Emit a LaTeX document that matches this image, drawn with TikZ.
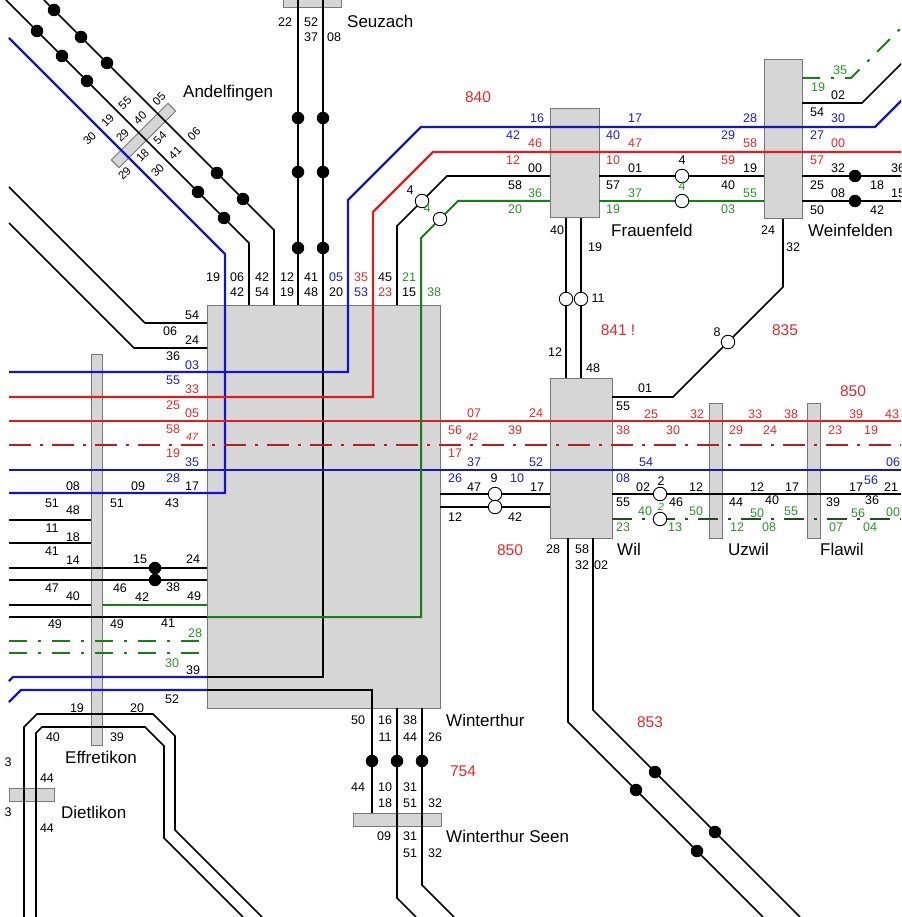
\documentclass[tikz,border=0pt]{standalone}
\usepackage{fontspec}
\setmainfont{Liberation Sans}
\definecolor{trackblue}{RGB}{20,20,200}
\definecolor{trackred}{RGB}{222,30,30}
\definecolor{trackdred}{RGB}{185,30,30}
\definecolor{trackgreen}{RGB}{25,125,25}
\definecolor{trackdgreen}{RGB}{30,80,30}
\definecolor{textred}{RGB}{228,40,40}
\definecolor{textblue}{RGB}{30,30,205}
\definecolor{textgreen}{RGB}{40,150,40}
\definecolor{boxfill}{RGB}{214,214,214}
\definecolor{boxline}{RGB}{120,120,120}

\def\pageW{901}
\def\pageH{917}
\def\stopSize{12.5}
\def\ringSize{13.5}

\begin{document}
\begin{tikzpicture}[x=1pt, y=-1pt,
    track/.style={line width=1.7pt, black},
    bluetrack/.style={line width=2.3pt, trackblue},
    redtrack/.style={line width=2.3pt, trackred},
    greentrack/.style={line width=2pt, trackgreen},
    reddash/.style={line width=2.3pt, trackdred, dash pattern=on 22pt off 9pt on 3pt off 9pt},
    greendash/.style={line width=2pt, trackgreen, dash pattern=on 18pt off 11pt on 3pt off 11pt},
    darkdash/.style={line width=1.9pt, trackdgreen, dash pattern=on 20pt off 10pt on 3pt off 10pt},
    stnbox/.style={draw=boxline, fill=boxfill, line width=1pt},
    stop/.style={circle, fill=black, inner sep=0pt, minimum size=\stopSize pt},
    ring/.style={circle, draw=black, fill=white, line width=0.9pt, inner sep=0pt, minimum size=\ringSize pt},
    num/.style={inner sep=0pt, font=\fontsize{12.5}{12.5}\selectfont},
    slantnum/.style={inner sep=0pt, font=\fontsize{11.5}{11.5}\selectfont},
    smallnum/.style={inner sep=0pt, font=\fontsize{10.5}{10.5}\itshape},
    route/.style={inner sep=0pt, text=textred, font=\fontsize{15.5}{15.5}\selectfont},
    station/.style={inner sep=0pt, anchor=west, font=\fontsize{17}{17}\selectfont}]
    \useasboundingbox (0,0) rectangle (\pageW,\pageH);
    \clip (0,0) rectangle (\pageW,\pageH);

    %% station boxes and platform bars
    \draw[stnbox] (207,305) rectangle (440,708);
    \draw[stnbox] (550,109) rectangle (599,218);
    \draw[stnbox] (764,60) rectangle (802,219);
    \draw[stnbox] (550,378) rectangle (612,538);
    \draw[stnbox] (283,-3) rectangle (341,8);
    \draw[stnbox] (91,354) rectangle (102,745);
    \draw[stnbox] (9,788) rectangle (54,801);
    \draw[stnbox] (353,813) rectangle (441,826);
    \draw[stnbox] (709,403) rectangle (722,538);
    \draw[stnbox] (807,403) rectangle (820,538);
    \node[stnbox, rotate=45, minimum width=80pt, minimum height=11pt, inner sep=0pt]
        (andelfingenbar) at (143.5,135.5) {};

    %% Andelfingen and Seuzach
    \draw[track] (6,0) -- (249,243) -- (249,305);
    \draw[track] (44,0) -- (274,230) -- (274,305);
    \draw[bluetrack] (9,38) -- (225,254) -- (225,493) -- (9,493);
    \draw[track] (298,0) -- (298,305);
    \draw[track] (323,0) -- (323,677) -- (207,677);
    \draw[bluetrack] (207,677) -- (13,677) -- (9,681);

    %% west side
    \draw[track] (9,187) -- (145,323) -- (207,323);
    \draw[track] (9,223) -- (134,348) -- (207,348);
    \draw[bluetrack] (9,372) -- (348,372) -- (348,200) -- (421,127) -- (875,127) -- (903,99);
    \draw[redtrack] (9,397) -- (373,397) -- (373,212) -- (433,152) -- (\pageW,152);
    \draw[redtrack] (9,421) -- (\pageW,421);
    \draw[reddash] (9,445) -- (\pageW,445);
    \draw[bluetrack] (9,470) -- (\pageW,470);
    \draw[track] (9,520) -- (91,520);
    \draw[track] (9,543) -- (91,543);
    \draw[track] (9,568) -- (207,568);
    \draw[track] (9,580) -- (207,580);
    \draw[track] (9,605) -- (91,605);
    \draw[greentrack] (102,605) -- (207,605);
    \draw[track] (9,617) -- (207,617);
    \draw[greentrack] (207,617) -- (421,617) -- (421,238) -- (458,201) -- (550,201);
    \draw[greendash] (9,641) -- (207,641);
    \draw[greendash] (9,653) -- (207,653);
    \draw[bluetrack] (9,702) -- (21,690) -- (207,690);
    \draw[track] (207,690) -- (372,690) -- (372,813);

    %% Effretikon - Dietlikon
    \draw[track] (24,\pageH) -- (24,727) -- (37,714) -- (153,714) -- (175,736) -- (175,830) -- (262,\pageH);
    \draw[track] (36,\pageH) -- (36,733) -- (42,727) -- (145,727) -- (164,746) -- (164,838) -- (243,\pageH);

    %% Winterthur Seen
    \draw[track] (397,708) -- (397,898) -- (416,\pageH);
    \draw[track] (422,708) -- (422,885) -- (454,\pageH);

    %% Frauenfeld - Weinfelden
    \draw[track] (397,305) -- (397,226) -- (447,176) -- (550,176);
    \draw[track] (599,176) -- (764,176);
    \draw[greentrack] (599,201) -- (764,201);
    \draw[track] (802,176) -- (\pageW,176);
    \draw[track] (802,201) -- (\pageW,201);
    \draw[track] (802,103) -- (862,103) -- (903,62);
    \draw[greendash] (802,78) -- (851,78) -- (903,26);

    %% Wil
    \draw[track] (566,218) -- (566,378);
    \draw[track] (581,218) -- (581,378);
    \draw[track] (612,397) -- (673,397) -- (783,287) -- (783,219);
    \draw[track] (440,494) -- (550,494);
    \draw[track] (440,507) -- (550,507);
    \draw[track] (612,494) -- (\pageW,494);
    \draw[darkdash] (612,519) -- (\pageW,519);
    \draw[track] (568,538) -- (568,722) -- (763,\pageH);
    \draw[track] (593,538) -- (593,710) -- (800,\pageH);

    %% stops
    \foreach \x/\y in {298/118, 323/118, 298/172, 323/172, 298/248, 323/248,
        54/10, 81/37, 107/63, 217/173, 243/199, 37/31, 62/56, 87/81, 198/192, 224/218,
        155/568, 155/580, 855/176, 855/201, 372/761, 397/761, 422/761,
        655/772, 715/832, 636/790, 697/851}
        \node[stop] (s\x-\y) at (\x,\y) {};
    \foreach \x/\y in {422/201, 440/219, 682/176, 682/201, 566/299, 581/299,
        728/342, 495/494, 495/507, 660/494, 660/519}
        \node[ring] (r\x-\y) at (\x,\y) {};

    %% times, black
    \foreach \x/\y/\t in {285/22/22, 311/22/52, 311/37/37, 334/37/08,
        213/277/19, 237/277/06, 237/292/42, 262/277/42, 262/292/54, 287/277/12,
        287/292/19, 311/277/41, 311/292/48, 336/292/20, 385/277/45, 409/292/15,
        192/315/54, 170/331/06, 192/340/24, 173/356/36, 192/486/17, 172/503/43,
        73/486/08, 138/486/09, 52/503/51, 117/503/51, 73/510/48, 52/528/11,
        73/537/18, 52/551/41, 73/560/14, 140/559/15, 193/559/24, 52/588/47,
        73/596/40, 120/588/46, 142/597/42, 173/587/38, 194/596/49, 55/624/49,
        117/624/49, 168/623/41, 193/670/39, 172/699/52, 77/708/19, 137/708/20,
        53/737/40, 117/737/39, 8/762/3, 47/778/44, 8/812/3, 47/828/44,
        358/720/50, 385/720/16, 410/720/38, 385/737/11, 410/737/44, 435/737/26,
        358/787/44, 385/787/10, 410/787/31, 385/803/18, 410/803/51, 435/803/32,
        384/836/09, 410/836/31, 410/853/51, 435/853/32,
        410/190/4, 535/168/00, 515/185/58, 635/168/01, 613/185/57, 682/160/4,
        750/168/19, 728/185/40, 557/230/40, 595/247/19, 598/298/11, 555/352/12,
        593/368/48, 838/95/02, 817/112/54, 838/168/32, 817/185/25, 838/193/08,
        817/210/50, 877/185/18, 877/210/42, 898/168/36, 898/193/15, 768/230/24,
        793/247/32, 717/332/8, 645/388/01, 623/406/55,
        494/478/9, 474/487/47, 537/487/17, 455/517/12, 515/517/42,
        643/487/02, 661/481/2, 696/487/12, 757/487/12, 792/487/17, 856/487/17,
        891/487/21, 623/502/55, 676/502/46, 736/502/44, 772/500/40, 833/502/39,
        872/500/36, 553/549/28, 582/549/58, 582/565/32, 601/565/02}
        \node[num] (k\x-\y) at (\x,\y) {\t};

    %% times, blue
    \foreach \x/\y/\t in {336/277/05, 361/292/53, 192/365/03, 173/380/55,
        192/462/35, 173/478/28, 537/118/16, 513/135/42, 635/118/17, 613/135/40,
        750/118/28, 728/135/29, 838/118/30, 817/135/27, 474/462/37, 536/462/52,
        455/478/26, 517/478/10, 646/462/54, 623/478/08, 893/462/06, 871/480/56}
        \node[num, text=textblue] (b\x-\y) at (\x,\y) {\t};

    %% times, red
    \foreach \x/\y/\t in {361/277/35, 385/292/23, 192/389/33, 173/405/25,
        192/413/05, 173/429/58, 173/453/19, 535/143/46, 513/160/12, 635/143/47,
        613/160/10, 750/143/58, 728/160/59, 838/143/00, 817/160/57, 474/413/07,
        536/413/24, 455/430/56, 515/430/39, 455/453/17, 651/414/25, 697/414/32,
        623/430/38, 673/430/30, 755/414/33, 791/414/38, 736/430/29, 770/430/24,
        856/414/39, 892/414/43, 835/430/23, 871/430/19}
        \node[num, text=textred] (t\x-\y) at (\x,\y) {\t};
    \foreach \x/\y/\t in {192/437/47, 472/437/42}
        \node[smallnum, text=textred] (t\x-\y) at (\x,\y) {\t};

    %% times, green
    \foreach \x/\y/\t in {409/277/21, 434/292/38, 427/208/4, 195/633/28,
        172/663/30, 535/193/36, 515/209/20, 635/193/37, 613/209/19, 682/186/4,
        750/193/55, 728/209/03, 840/70/35, 818/87/19, 645/511/40, 696/511/50,
        757/513/50, 791/511/55, 858/513/56, 893/512/00, 623/527/23, 675/527/13,
        737/527/12, 769/527/08, 836/527/07, 870/527/04}
        \node[num, text=textgreen] (g\x-\y) at (\x,\y) {\t};
    \node[smallnum, text=textgreen] (g661-507) at (661,507) {2};

    %% times at Andelfingen, along the slanted bar
    \foreach \s/\c/\t in {228/-49/30, 228/-13/19, 228/22/55, 258/-13/29, 258/22/40,
        258/60/05, 298/-49/29, 298/-13/18, 298/22/54, 328/-13/30, 328/22/41, 328/60/06}
        \node[slantnum, rotate=45] (a\s\c) at ({(\s+\c)/2},{(\s-\c)/2}) {\t};

    %% line numbers
    \foreach \x/\y/\t in {478/97/840, 618/330/841 !, 785/330/835, 853/391/850,
        510/550/850, 650/722/853, 463/771/754}
        \node[route] (n\x-\y) at (\x,\y) {\t};

    %% station names
    \node[station] (seuzach) at (347,21) {Seuzach};
    \node[station] (andelfingen) at (183,93) {Andelfingen};
    \node[station] (frauenfeld) at (611,230) {Frauenfeld};
    \node[station] (weinfelden) at (808,230) {Weinfelden};
    \node[station] (wil) at (617,549) {Wil};
    \node[station] (uzwil) at (728,549) {Uzwil};
    \node[station] (flawil) at (820,549) {Flawil};
    \node[station] (winterthur) at (446,720) {Winterthur};
    \node[station] (winterthurseen) at (446,836) {Winterthur Seen};
    \node[station] (effretikon) at (65,757) {Effretikon};
    \node[station] (dietlikon) at (61,812) {Dietlikon};
\end{tikzpicture}
\end{document}
